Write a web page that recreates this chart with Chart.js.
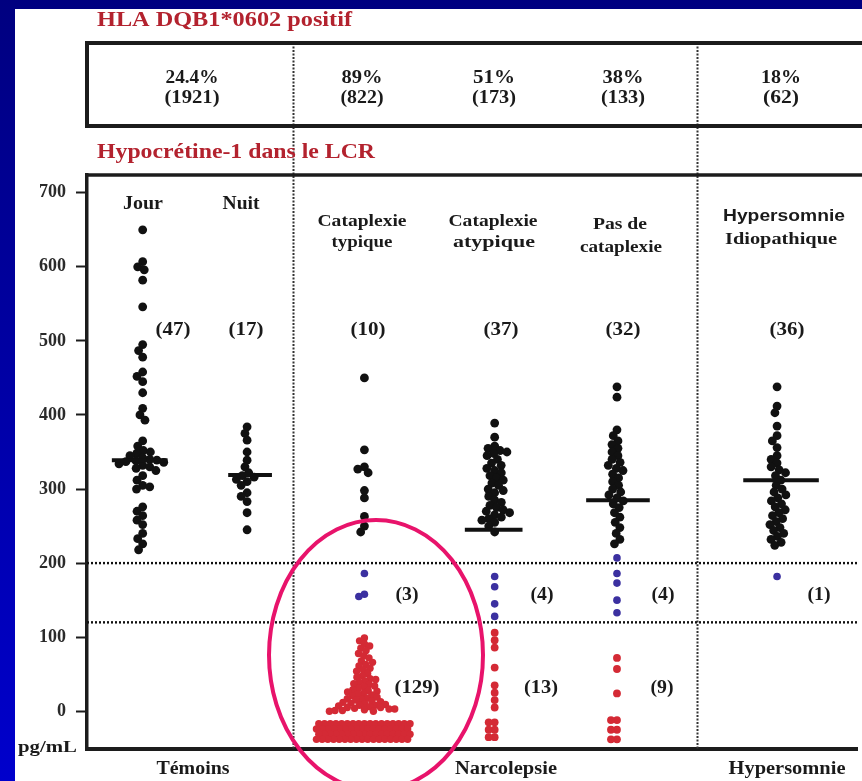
<!DOCTYPE html>
<html><head><meta charset="utf-8">
<script src="https://cdn.jsdelivr.net/npm/chart.js@4/dist/chart.umd.min.js"></script>
<style>
html,body{margin:0;padding:0;}
body{width:862px;height:781px;overflow:hidden;background:linear-gradient(to bottom,#000080,#0000cc);}
canvas{position:absolute;left:0;top:0;}
</style></head><body>
<canvas id="c" width="862" height="781"></canvas>
<script>
// ---------- DATA (pg/mL) ----------
const groups = ['Jour','Nuit','Cataplexie typique','Cataplexie atypique','Pas de cataplexie','Hypersomnie Idiopathique'];
const jourBlack = [650, 607, 600, 596, 582, 546, 495, 487, 478, 458, 452, 445, 430, 409, 400, 393,
  365, 358, 352, 350, 348, 345, 342, 340, 339, 338, 337, 336, 334, 332, 330, 328, 325, 318, 312, 305,
  303, 300, 276, 270, 264, 258, 252, 240, 233, 226, 218];
const nuitBlack = [384, 375, 366, 350, 339, 330, 322, 318, 316, 313, 310, 305, 295, 290, 283, 268, 245];
const ctBlack = [450, 353, 330, 327, 322, 298, 288, 263, 250, 242];
const ctBlue = [186, 158, 155];
const ctRed = [99, 95, 91, 88, 85, 82, 78, 75, 72, 68, 66, 63, 61, 58, 56, 54, 51, 48, 46, 44, 43, 41,
  39, 37, 36, 34, 33, 31, 29, 28, 27, 26, 24, 23, 22, 21, 19, 18, 17, 16, 15, 14, 13, 12, 11, 10,
  9, 8, 8, 7, 6, 5, 5, 4, 3, 3, 2, 1, 1, 0, 0,
  -17, -17, -17, -17, -17, -17, -17, -17, -17, -17, -17, -17, -17, -17, -17, -17, -17,
  -24, -24, -24, -24, -24, -24, -24, -24, -24, -24, -24, -24, -24, -24, -24, -24, -24,
  -31, -31, -31, -31, -31, -31, -31, -31, -31, -31, -31, -31, -31, -31, -31, -31, -31,
  -38, -38, -38, -38, -38, -38, -38, -38, -38, -38, -38, -38, -38, -38, -38, -38, -38];
const caBlack = [389, 370, 358, 355, 352, 350, 348, 345, 340, 335, 332, 328, 325, 322, 318, 315, 312,
  308, 305, 300, 298, 295, 290, 285, 282, 278, 275, 272, 270, 268, 265, 262, 260, 258, 255, 250, 242];
const caBlue = [182, 168, 145, 128];
const caRed = [106, 96, 86, 59, 35, 25, 15, 5, -15, -15, -25, -25, -35, -35];
const pcBlack = [438, 424, 380, 372, 365, 360, 355, 350, 345, 340, 336, 332, 328, 325, 320, 315,
  310, 305, 300, 296, 292, 288, 284, 280, 275, 268, 262, 255, 248, 240, 232, 226];
const pcBlue = [207, 186, 173, 150, 133];
const pcRed = [72, 57, 24, -12, -12, -25, -25, -38, -38];
const hiBlack = [438, 412, 403, 385, 372, 365, 356, 345, 340, 335, 330, 326, 322, 318, 312, 305,
  300, 296, 292, 288, 284, 280, 276, 272, 268, 264, 260, 256, 252, 248, 244, 240, 236, 232, 228, 224];
const hiBlue = [182];
const medians = [339, 319, null, 245, 285, 312];
const thresholds = [200, 120];
const yTicks = [0, 100, 200, 300, 400, 500, 600, 700];
const countsAll = ['(47)', '(17)', '(10)', '(37)', '(32)', '(36)'];
const countsMid = [null, null, '(3)', '(4)', '(4)', '(1)'];
const countsLow = [null, null, '(129)', '(13)', '(9)', null];
const hlaPct = ['24.4%', '89%', '51%', '38%', '18%'];
const hlaN = ['(1921)', '(822)', '(173)', '(133)', '(62)'];
const bottomLabels = ['Témoins', 'Narcolepsie', 'Hypersomnie'];

// ---------- LAYOUT (x in chart units = px from left axis) ----------
const groupX = [56, 161, 279, 410, 533, 694];
const medianX = [53, 164, null, 409, 534, 698];
const medianHalf = [28, 22, null, 29, 32, 38];
const sectionBreaks = [207, 613];

const BLACK = '#111111', BLUE = '#3b30a0', RED = '#d42a35', TITLE = '#b3222e';
const serif = '"Liberation Serif","Times New Roman",serif';
const sans = '"Liberation Sans",Arial,sans-serif';

const dotSets = [
  {vals: jourBlack, g: 0, c: BLACK, r: 4.4, d: 7.2},
  {vals: nuitBlack, g: 1, c: BLACK, r: 4.4, d: 7},
  {vals: ctBlack, g: 2, c: BLACK, r: 4.4, d: 7},
  {vals: ctBlue, g: 2, c: BLUE, r: 3.8, d: 6},
  {vals: ctRed, g: 2, c: RED, r: 3.7, d: 5.7},
  {vals: caBlack, g: 3, c: BLACK, r: 4.4, d: 7},
  {vals: caBlue, g: 3, c: BLUE, r: 3.8, d: 6},
  {vals: caRed, g: 3, c: RED, r: 3.9, d: 6},
  {vals: pcBlack, g: 4, c: BLACK, r: 4.4, d: 7},
  {vals: pcBlue, g: 4, c: BLUE, r: 3.8, d: 6},
  {vals: pcRed, g: 4, c: RED, r: 3.9, d: 6},
  {vals: hiBlack, g: 5, c: BLACK, r: 4.4, d: 7},
  {vals: hiBlue, g: 5, c: BLUE, r: 3.8, d: 6},
];

const datasets = [];
thresholds.forEach(t => datasets.push({
  type: 'line', data: [{x: 0, y: t}, {x: 775, y: t}], borderColor: '#111', borderWidth: 2.4,
  borderDash: [2, 2], pointRadius: 0, order: 10
}));
dotSets.forEach(s => datasets.push({
  type: 'scatter', data: s.vals.map(v => ({x: groupX[s.g], y: v})), backgroundColor: s.c,
  borderColor: s.c, borderWidth: 0, pointRadius: s.r, order: 5
}));
medians.forEach((m, i) => { if (m === null) return; datasets.push({
  type: 'line', data: [{x: medianX[i] - medianHalf[i], y: m}, {x: medianX[i] + medianHalf[i], y: m}],
  borderColor: '#111', borderWidth: 4, pointRadius: 0, order: 1
}); });

function txt(ctx, s, x, y, size, w, align, color, fam) {
  ctx.save();
  ctx.font = 'bold ' + size + 'px ' + (fam || serif);
  ctx.fillStyle = color || '#1a1a1a';
  ctx.textBaseline = 'middle';
  ctx.textAlign = align || 'center';
  const m = ctx.measureText(s).width;
  const sx = w ? w / m : 1;
  ctx.translate(x, y); ctx.scale(sx, 1);
  ctx.fillText(s, 0, 0);
  ctx.restore();
}

const deco = {
  id: 'deco',
  beforeDraw(chart) {
    const ctx = chart.ctx;
    ctx.save(); ctx.fillStyle = '#ffffff'; ctx.fillRect(15, 9, 847, 772); ctx.restore();
  },
  beforeDatasetsDraw(chart) {
    const ctx = chart.ctx, xs = chart.scales.x, a = chart.chartArea;
    ctx.save();
    ctx.strokeStyle = '#333'; ctx.lineWidth = 2; ctx.setLineDash([2, 1.5]);
    sectionBreaks.forEach(b => {
      const px = Math.round(xs.getPixelForValue(b)) + 0.5;
      ctx.beginPath(); ctx.moveTo(px, 43); ctx.lineTo(px, a.bottom); ctx.stroke();
    });
    ctx.restore();
  },
  afterDraw(chart) {
    const ctx = chart.ctx, a = chart.chartArea;
    ctx.save();
    ctx.strokeStyle = '#1c1c1c'; ctx.lineWidth = 4;
    ctx.beginPath(); ctx.moveTo(a.left, 43); ctx.lineTo(862, 43); ctx.stroke();
    ctx.beginPath(); ctx.moveTo(a.left, 126); ctx.lineTo(862, 126); ctx.stroke();
    ctx.beginPath(); ctx.moveTo(a.left, 41); ctx.lineTo(a.left, 128); ctx.stroke();
    ctx.lineWidth = 3.5;
    ctx.beginPath(); ctx.moveTo(a.left - 1, 175); ctx.lineTo(862, 175); ctx.stroke();
    ctx.restore();
    txt(ctx, 'HLA DQB1*0602 positif', 97, 20, 22, 255, 'left', TITLE);
    txt(ctx, 'Hypocrétine-1 dans le LCR', 97, 152, 22, 278, 'left', TITLE);
    const tX = [192, 362, 494, 623, 781];
    const pctW = [53, 41, 42, 41, 40];
    const nW = [55, 43, 44, 44, 36];
    hlaPct.forEach((s, i) => txt(ctx, s, tX[i], 78, 18, pctW[i], 'center'));
    hlaN.forEach((s, i) => txt(ctx, s, tX[i], 98, 18, nW[i], 'center'));
    txt(ctx, 'Jour', 143, 204, 18, 40);
    txt(ctx, 'Nuit', 241, 204, 18, 37);
    txt(ctx, 'Cataplexie', 362, 222, 16, 89);
    txt(ctx, 'typique', 362, 243, 16, 61);
    txt(ctx, 'Cataplexie', 493, 222, 16, 89);
    txt(ctx, 'atypique', 494, 243, 17, 82);
    txt(ctx, 'Pas de', 620, 225, 16, 54);
    txt(ctx, 'cataplexie', 621, 248, 16, 82);
    txt(ctx, 'Hypersomnie', 784, 217, 16, 122, 'center', '#1a1a1a', sans);
    txt(ctx, 'Idiopathique', 781, 240, 16, 112);
    const cX = [173, 246, 368, 501, 623, 787];
    countsAll.forEach((s, i) => txt(ctx, s, cX[i], 330, 18, 35));
    const mX = [0, 0, 407, 542, 663, 819];
    countsMid.forEach((s, i) => { if (s) txt(ctx, s, mX[i], 595, 18, 23); });
    const lX = [0, 0, 417, 541, 662];
    countsLow.forEach((s, i) => { if (s) txt(ctx, s, lX[i], 688, 18, s.length === 5 ? 45 : (s.length === 4 ? 34 : 23)); });
    txt(ctx, bottomLabels[0], 193, 769, 18, 73);
    txt(ctx, bottomLabels[1], 506, 769, 18, 102);
    txt(ctx, bottomLabels[2], 787, 769, 18, 117);
    txt(ctx, 'pg/mL', 18, 748, 17, 59, 'left');
    ctx.save();
    ctx.strokeStyle = '#e8136b'; ctx.lineWidth = 4;
    ctx.beginPath(); ctx.ellipse(376, 655, 107, 135, 0, 0, Math.PI * 2); ctx.stroke();
    ctx.restore();
  }
};

const chart = new Chart(document.getElementById('c').getContext('2d'), {
  type: 'scatter',
  data: {datasets},
  options: {
    responsive: false, animation: false, devicePixelRatio: 1,
    layout: {padding: {top: 175, right: 0, bottom: 32, left: 0}},
    plugins: {legend: {display: false}, tooltip: {enabled: false}},
    scales: {
      x: {type: 'linear', min: 0, max: 775, ticks: {display: false},
          grid: {display: false, drawTicks: false}, border: {display: true, width: 4, color: '#1c1c1c'},
          afterFit: s => { s.height = 0; }},
      y: {min: -51, max: 724,
          afterFit: s => { s.width = 87; },
          afterBuildTicks: s => { s.ticks = yTicks.map(v => ({value: v})); },
          ticks: {padding: 10, color: '#2a2a2a', font: {family: serif, size: 18, weight: 'bold'}},
          grid: {drawOnChartArea: false, drawTicks: true, tickLength: 11, tickWidth: 2, color: '#1c1c1c'},
          border: {width: 3.5, color: '#1c1c1c'}}
    }
  },
  plugins: [deco]
});

function swarm(vals, cx, minDist) {
  const ys = chart.scales.y, xs = chart.scales.x;
  const upp = (xs.max - xs.min) / xs.width;
  const pts = vals.map(v => ({v, py: ys.getPixelForValue(v)})).sort((a, b) => a.py - b.py);
  const placed = [];
  pts.forEach(p => {
    const forb = [];
    placed.forEach(q => {
      const dy = Math.abs(q.py - p.py);
      if (dy < minDist) { const dx = Math.sqrt(minDist * minDist - dy * dy); forb.push([q.px - dx, q.px + dx]); }
    });
    const cands = [0];
    forb.forEach(([l, r]) => cands.push(l, r));
    cands.sort((a, b) => Math.abs(a) - Math.abs(b) || a - b);
    let px = 0;
    for (const c of cands) {
      if (forb.every(([l, r]) => c <= l + 1e-6 || c >= r - 1e-6)) { px = c; break; }
    }
    p.px = px; placed.push(p);
  });
  return placed.map(p => ({x: cx + p.px * upp, y: p.v}));
}
dotSets.forEach((s, i) => {
  chart.data.datasets[thresholds.length + i].data = swarm(s.vals, groupX[s.g], s.d);
});
chart.update('none');
</script>
</body></html>
